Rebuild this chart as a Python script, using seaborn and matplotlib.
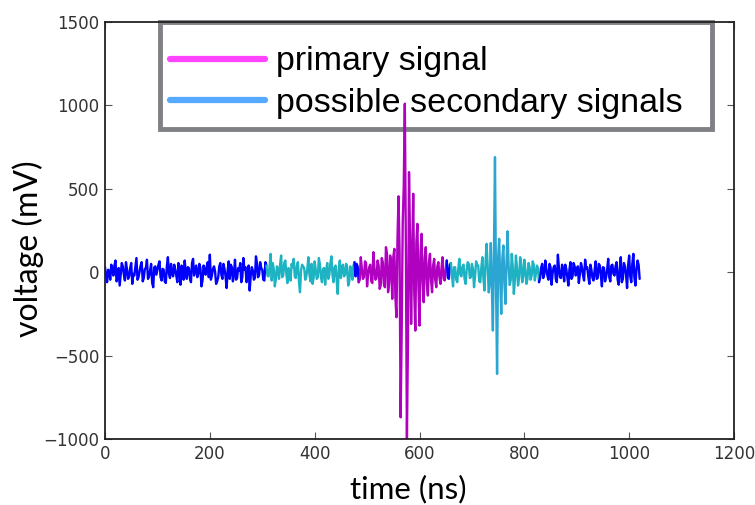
import matplotlib
matplotlib.use("Agg")
import matplotlib.pyplot as plt
import pandas as pd
import seaborn as sns
from matplotlib.lines import Line2D

# ---------------- data ----------------
# samples every 2 ns: voltage_mv holds the samples at 0, 4, 8 ... ns,
# voltage_mid_mv the samples at 2, 6, 10 ... ns
time_step_ns = 2
voltage_mv = [
    30, -60, 5, 45, -20, 70, -35, -80, 55, -15,
    60, -40, 25, -70, -20, 85, -30, 40, -55, 20,
    75, -25, 50, -90, 35, 15, 65, -50, 15, -65,
    90, -35, -10, 45, -20, 55, -75, 30, 70, -40,
    25, -60, 80, 10, -30, 50, -85, 40, -15, 60,
    105, -20, 35, -70, -30, 55, -40, 20, -95, 65,
    45, -55, 75, -35, 10, -60, 85, 30, -20, -110,
    30, -45, 95, -30, 60, 15, -50, 40, -25, 110,
    55, -85, 35, -40, 100, -20, 70, -65, -15, 50,
    80, -35, 60, -120, 45, 25, -25, 90, -55, -70,
    65, -40, 85, -30, 20, -75, 55, -15, 95, -60,
    40, -130, 70, 25, -25, 50, -80, 35, -45, 60,
    50, -60, 90, -40, 65, -85, 30, -55, 120, -45,
    70, -100, 85, -70, 150, -120, 100, -160, 140, -270,
    455, -870, 300, 1010, -1000, 600, -310, 470, -350, 290,
    -320, 230, -180, 150, -140, 110, -120, 80, -90, 60,
    -70, 90, -50, 70, -40, 55, -85, 30, -60, 80,
    -25, 45, -70, 60, -35, 50, -90, 65, 40, -60,
    90, -110, 170, -120, 175, -350, 690, -610, 200, -250,
    160, -190, 245, -75, 110, -130, 100, -80, 90, -60,
    75, -70, 55, -45, 65, -50, 40, -60, 25, -35,
    70, -20, 50, -75, 30, -40, 105, -30, 45, -55,
    20, -80, 60, -25, 35, 5, -65, 55, -20, 75,
    30, -70, 15, -50, 65, -35, 40, -85, 25, -30,
    80, -55, 45, -20, 60, -75, 90, -40, 35, -95,
    100, -60, 110, -80, 70, -40,
]
voltage_mid_mv = [
    -20, 15, -45, 10, 40, -55, 25, -10, 35, -50,
    15, -25, 55, -10, 30, -45, 5, 60, -35, 25,
    -40, 10, -65, 30, -15, 45, -30, 20, -55, 35,
    -10, 50, -25, 15, -60, 20, 40, -45, 5, 30,
    -35, 55, -20, 40, -10, 25, -50, 15, 35, -30,
    -45, 20, 5, -55, 35, -15, 50, -25, 10, -40,
    30, -10, -45, 25, 55, -30, 15, -60, 40, -20,
    10, -35, 50, -15, 25, -45, 60, -20, 35, -50,
    20, -40, 15, 45, -30, 55, -10, 25, -50, 30,
    -25, 40, -55, 10, 35, -45, 20, -15, 50, -35,
    15, -30, 45, -60, 25, 10, -40, 55, -20, 30,
    -50, 20, -35, 45, -15, 30, -55, 10, 40, -25,
    35, -45, 20, -30, 55, -10, 45, -65, 25, -35,
    40, -80, 60, -90, 110, -70, 60, 90, -150, 200,
    120, -350, 520, 150, -400, 180, 90, -120, 180, -90,
    120, -60, 90, -70, 60, -50, 40, -45, 35, -30,
    25, -40, 15, -30, 45, -20, 30, -45, 20, -15,
    35, -40, 15, 50, -30, 20, -25, 40, -55, 30,
    -40, 60, 40, -60, -90, 120, -80, 90, -50, 80,
    -70, 60, 40, -50, 30, -45, 20, -35, 50, -25,
    15, -40, 30, -20, 45, -10, 25, -35, 50, -15,
    20, -45, 30, -5, 40, -60, 25, -35, 10, 45,
    -30, 15, -40, 55, -20, 35, -10, 30, -50, 20,
    -25, 45, -35, 10, -40, 50, -20, 30, -55, 15,
    -30, 40, -10, 35, -45, 20, -60, 55, -15, 40,
    -25, 50, -35, 20, 45,
]
# segment limits, given as sample numbers on the 4 ns grid
segment_start_idx = [0, 77, 119, 121, 163, 165, 183, 193, 207]
segment_end_idx = [77, 119, 121, 163, 165, 183, 193, 207, 255]
segment_colors = ["#0000ff", "#1db3c2", "#0000ff", "#b000c0", "#0000ff",
                  "#1db3c2", "#2ba6d3", "#1db3c2", "#0000ff"]
legend_labels = ["primary signal", "possible secondary signals"]
legend_colors = ["#ff44ff", "#55aaff"]
x_ticks = [0, 200, 400, 600, 800, 1000, 1200]
y_ticks = [-1000, -500, 0, 500, 1000, 1500]

# ---------------- table ----------------
series = []
for i, v in enumerate(voltage_mv):
    series.append(v)
    if i < len(voltage_mid_mv):
        series.append(voltage_mid_mv[i])

rows = []
for k, (s, e) in enumerate(zip(segment_start_idx, segment_end_idx)):
    for n in range(2 * s, 2 * e + 1):
        rows.append({"time": n * time_step_ns, "voltage": series[n], "seg": k})
df = pd.DataFrame(rows)
palette = {k: c for k, c in enumerate(segment_colors)}

# ---------------- figure ----------------
sns.set_style("ticks", {"xtick.direction": "in", "ytick.direction": "in"})
plt.rcParams["font.family"] = ["DejaVu Sans"]

fig = plt.figure(figsize=(7.55, 5.05), dpi=100)
ax = fig.add_axes([105 / 755, 1 - 439 / 505, 629 / 755, 417 / 505])

sns.lineplot(data=df, x="time", y="voltage", hue="seg", palette=palette,
             estimator=None, sort=False, legend=False, linewidth=1.7, ax=ax)

ax.set_xlim(0, 1200)
ax.set_ylim(-1000, 1500)
ax.set_xticks(x_ticks)
ax.set_yticks(y_ticks)
ax.tick_params(axis="both", which="both", direction="in", top=True, right=True,
               length=5, width=0.8, color="#555555", labelsize=12,
               labelcolor="#333333", pad=4)
for sp in ax.spines.values():
    sp.set_visible(True)
    sp.set_color("#222222")
    sp.set_linewidth(1.3)

ax.set_xlabel("time (ns)", family=["Lato", "DejaVu Sans"], fontsize=22.5,
              color="black")
ax.set_ylabel("voltage (mV)", family=["Lato", "DejaVu Sans"], fontsize=23,
              color="black")
ax.xaxis.set_label_coords(0.482, -0.085)
ax.yaxis.set_label_coords(-0.097, 0.456)

handles = [Line2D([0], [0], color=c, lw=4.5) for c in legend_colors]
leg = ax.legend(handles, legend_labels, loc="upper left",
                bbox_to_anchor=(0.0874, 0.741, 0.8776, 0.259), mode="expand",
                borderaxespad=0, fancybox=False, framealpha=1, frameon=True,
                prop={"family": ["Liberation Sans", "DejaVu Sans"], "size": 24.5},
                handlelength=2.8, handletextpad=0.3, borderpad=0.3,
                labelspacing=0.3, title=" ", title_fontsize=3,
                labelcolor="black")
leg.get_frame().set_edgecolor("#808184")
leg.get_frame().set_linewidth(3.5)
leg.set_zorder(1)

fig.savefig("out.png", dpi=100)
